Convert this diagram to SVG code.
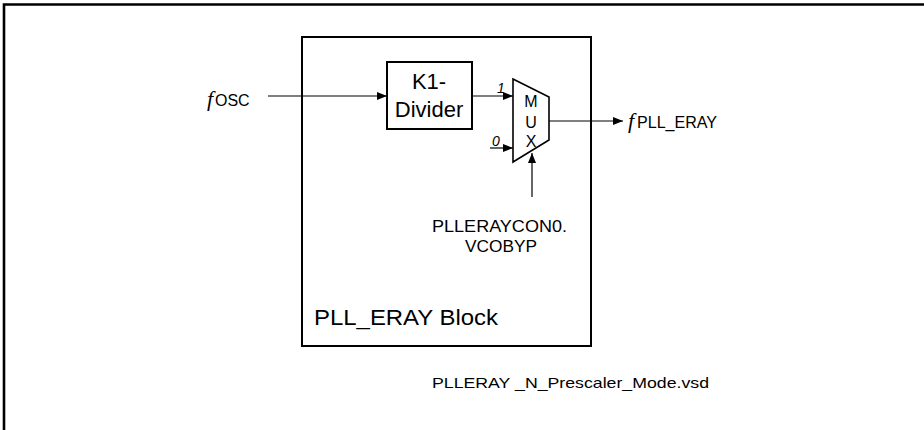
<svg xmlns="http://www.w3.org/2000/svg" width="924" height="430" viewBox="0 0 924 430">
<style>
.ln{stroke:#000;stroke-width:1.2;fill:none}
.box{stroke:#000;stroke-width:2;fill:#fff}
.t{font-family:"Liberation Sans",Arial,sans-serif;fill:#000}
.it{font-family:"Liberation Serif","Times New Roman",serif;font-style:italic;fill:#000}
.si{font-family:"Liberation Sans",Arial,sans-serif;font-style:italic;fill:#000}
</style>
<defs>
<marker id="ah" markerWidth="10" markerHeight="8" refX="10" refY="4" orient="auto" markerUnits="userSpaceOnUse">
<path d="M0,0 L10,4 L0,8 Z" fill="#000"/>
</marker>
</defs>
<rect width="924" height="430" fill="#fff"/>
<path d="M4,430 L4,4.5 L924,4.5" stroke="#000" stroke-width="2.6" fill="none"/>

<g id="pll_block">
<rect x="302" y="37" width="289" height="309" class="box"/>
<text x="314" y="325" class="t" font-size="22" textLength="184" lengthAdjust="spacingAndGlyphs">PLL_ERAY Block</text>
</g>

<g id="k1_divider">
<rect x="387" y="62" width="85" height="67" class="box"/>
<text x="429" y="89" class="t" font-size="22" text-anchor="middle">K1-</text>
<text x="429" y="117" class="t" font-size="22" text-anchor="middle">Divider</text>
</g>

<g id="mux">
<path d="M513,79 L549,97 L549,140 L513,162 Z" stroke="#000" stroke-width="1.6" fill="#fff"/>
<text x="531" y="107" class="t" font-size="16" text-anchor="middle">M</text>
<text x="531" y="128" class="t" font-size="16" text-anchor="middle">U</text>
<text x="531" y="147" class="t" font-size="16" text-anchor="middle">X</text>
</g>

<g id="fosc">
<text x="207" y="106" class="it" font-size="22">f</text>
<text x="215" y="106" class="t" font-size="16">OSC</text>
</g>

<g id="fpll">
<text x="628" y="128" class="it" font-size="22">f</text>
<text x="637" y="128" class="t" font-size="16" textLength="80" lengthAdjust="spacingAndGlyphs">PLL_ERAY</text>
</g>

<g id="vcobyp">
<text x="432" y="232" class="t" font-size="16" textLength="135" lengthAdjust="spacingAndGlyphs">PLLERAYCON0.</text>
<text x="465" y="252" class="t" font-size="16" textLength="72" lengthAdjust="spacingAndGlyphs">VCOBYP</text>
</g>

<g id="footer">
<text x="432" y="388" class="t" font-size="15" textLength="277" lengthAdjust="spacingAndGlyphs">PLLERAY _N_Prescaler_Mode.vsd</text>
</g>

<g id="connectors">
<line x1="268" y1="96" x2="387" y2="96" class="ln" marker-end="url(#ah)"/>
<line x1="472" y1="96" x2="513" y2="96" class="ln" marker-end="url(#ah)"/>
<line x1="490" y1="148" x2="513" y2="148" class="ln" marker-end="url(#ah)"/>
<line x1="549" y1="121" x2="623" y2="121" class="ln" marker-end="url(#ah)"/>
<line x1="532" y1="197" x2="532" y2="153" class="ln" marker-end="url(#ah)"/>
<text x="497" y="93" class="si" font-size="14">1</text>
<text x="492" y="146" class="si" font-size="14">0</text>
</g>
</svg>
